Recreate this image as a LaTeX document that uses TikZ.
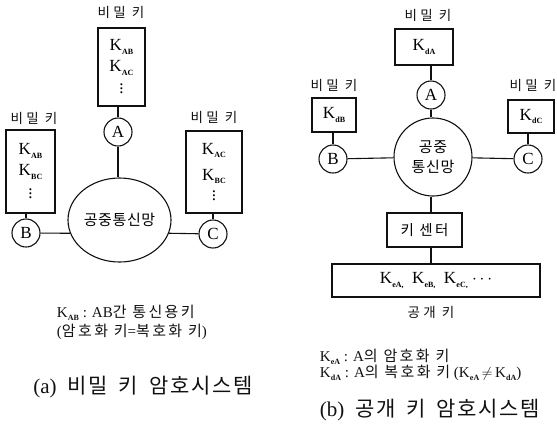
\documentclass[tikz,border=0pt]{standalone}
\usepackage{fontspec}
\setmainfont{Liberation Serif}
\newfontfamily\krfont[LetterSpace=4]{Noto Sans CJK KR}
\newfontfamily\krwide[LetterSpace=16]{Noto Sans CJK KR}
\newfontfamily\krlab[LetterSpace=24]{Noto Sans CJK KR}
\newfontfamily\krcap[LetterSpace=8]{Noto Sans CJK KR}
\usetikzlibrary{shapes.geometric}
\definecolor{ink}{HTML}{111111}
% K with a small bold subscript
\newcommand{\ks}[1]{K\kern0.2pt\raisebox{-0.4ex}{\fontsize{8}{8}\selectfont\bfseries #1}}
\newcommand{\gap}{\hspace{11pt}}
\tikzset{
  every picture/.style={line width=1.1pt,draw=ink},
  keybox/.style={draw=ink,fill=white,align=center,inner sep=2pt,font=\fontsize{17}{21}\selectfont},
  stn/.style={circle,draw=ink,fill=white,minimum size=28pt,inner sep=0pt,font=\fontsize{17}{17}\selectfont},
  net/.style={ellipse,draw=ink,fill=white,inner sep=0pt,align=center,font=\krfont\fontsize{15}{20}\selectfont},
  lab/.style={font=\krlab\fontsize{13.5}{15}\selectfont,text=ink},
  note/.style={anchor=west,font=\fontsize{15}{16}\selectfont,text=ink},
  capt/.style={font=\fontsize{21}{23}\selectfont,text=ink},
  wire/.style={draw=ink},
}

\begin{document}
\begin{tikzpicture}[x=1pt,y=-1pt]
  \useasboundingbox (0,0) rectangle (557,432);
  % (a) secret key
  \node[lab] (la) at (121,12) {비밀 키};
  \node[keybox,minimum width=47pt,minimum height=78pt] (ka) at (121.5,67) {\ks{AB}\\[0pt]\ks{AC}\\[1pt]$\vdots$};
  \node[stn] (ca) at (118,132) {A};
  \node[net,minimum width=103pt,minimum height=84pt] (pn) at (119.5,220) {공중통신망};
  \node[lab] (lb) at (34,118) {비밀 키};
  \node[keybox,minimum width=49pt,minimum height=83pt] (kb) at (30.5,171.5) {\ks{AB}\\[0pt]\ks{BC}\\[2pt]$\vdots$};
  \node[stn] (cb) at (26,233) {B};
  \node[lab] (lc) at (214,117) {비밀 키};
  \node[keybox,minimum width=56pt,minimum height=82pt] (kc) at (214,172) {\ks{AC}\\[5pt]\ks{BC}\\[-1pt]$\vdots$};
  \node[stn] (cc) at (213,234) {C};
  \draw[wire] (ca.north) -- (ca.north |- ka.south);
  \draw[wire] (ca.south) -- (ca.south |- pn.north);
  \draw[wire] (cb.north) -- (cb.north |- kb.south);
  \draw[wire] (cc.north) -- (cc.north |- kc.south);
  \draw[wire] (cb) -- (pn.195);
  \draw[wire] (cc) -- (pn.345);
  \node[note] (na1) at (53,313) {\ks{AB} : AB{\krwide 간 통신용키}};
  \node[note] (na2) at (53,332) {({\krwide 암호화 키}={\krwide 복호화 키})};
  \node[capt] (capa) at (143,387) {(a)\gap{\krcap 비밀}\gap{\krcap 키}\gap{\krcap 암호시스템}};
  % (b) public key
  \node[lab] (rla) at (428,15) {비밀 키};
  \node[keybox,minimum width=58pt,minimum height=36pt] (kda) at (424,47) {\ks{dA}};
  \node[stn] (ra) at (431,95) {A};
  \node[net,circle,minimum size=78pt] (rn) at (433,157) {공중\\통신망};
  \node[lab] (rlb) at (334,85) {비밀 키};
  \node[keybox,minimum width=44pt,minimum height=34pt] (kdb) at (334,115) {\ks{dB}};
  \node[stn] (rb) at (333,159) {B};
  \node[lab] (rlc) at (533,85) {비밀 키};
  \node[keybox,minimum width=46pt,minimum height=33pt] (kdc) at (531,116.5) {\ks{dC}};
  \node[stn] (rc) at (528,159) {C};
  \node[keybox,font=\krwide\fontsize{14.5}{16}\selectfont,minimum width=75pt,minimum height=34pt] (kctr) at (424.5,230) {키 센터};
  \node[keybox,minimum width=208pt,minimum height=33pt] (pub) at (436,280.5) {\ks{eA,}\enspace\ks{eB,}\enspace\ks{eC,} $\cdots$};
  \node[lab] (lpub) at (431,312) {공개 키};
  \draw[wire] (ra.north) -- (ra.north |- kda.south);
  \draw[wire] (ra.south) -- (ra.south |- rn.north);
  \draw[wire] (rb.north) -- (rb.north |- kdb.south);
  \draw[wire] (rc.north) -- (rc.north |- kdc.south);
  \draw[wire] (rb) -- (rn);
  \draw[wire] (rc) -- (rn);
  \draw[wire] (rn.south -| ra) -- (ra |- kctr.north);
  \draw[wire] (ra |- kctr.south) -- (ra |- pub.north);
  \node[note] (nb1) at (316,357) {\ks{eA} : A{\krwide 의 암호화 키}};
  \node[note] (nb2) at (316,373) {\ks{dA} : A{\krwide 의 복호화 키} (\ks{eA}$\,\neq\,$\ks{dA})};
  \node[capt] (capb) at (430,410) {(b)\gap{\krcap 공개}\gap{\krcap 키}\gap{\krcap 암호시스템}};
\end{tikzpicture}
\end{document}
